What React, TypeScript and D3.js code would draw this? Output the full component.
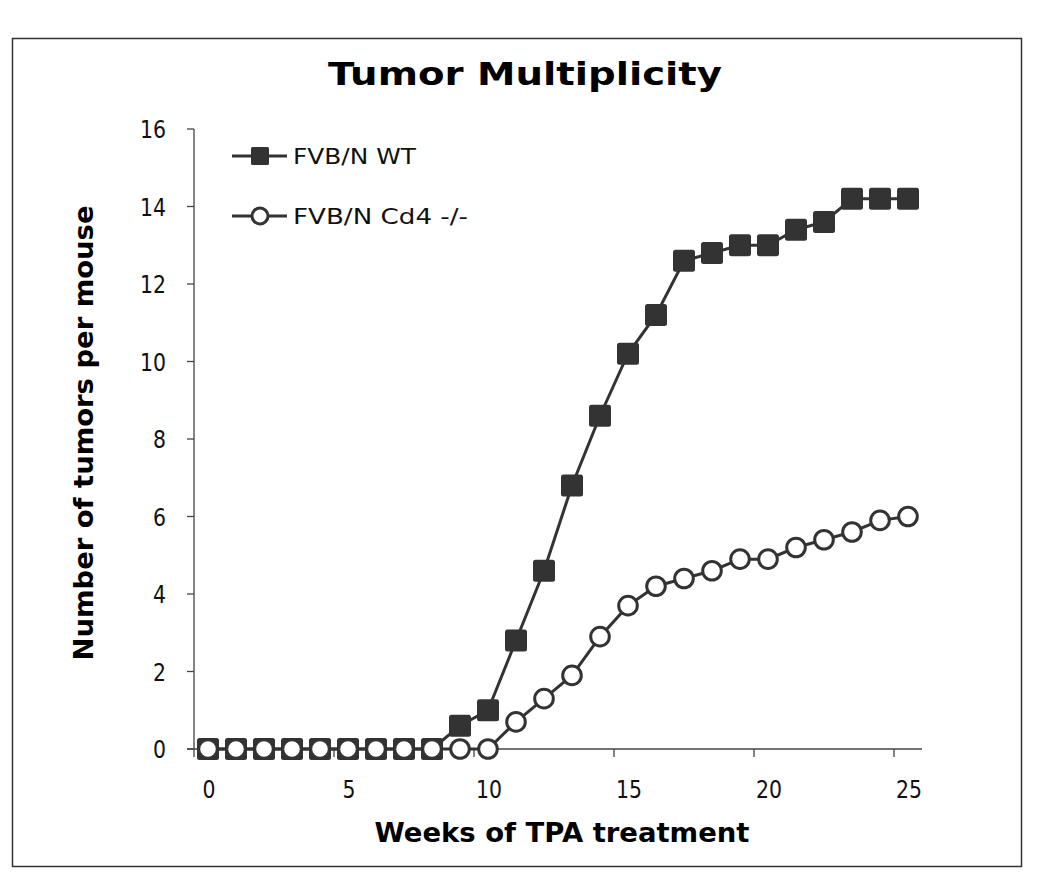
import React from "react";
import * as d3 from "d3";

const weeks = [0,1,2,3,4,5,6,7,8,9,10,11,12,13,14,15,16,17,18,19,20,21,22,23,24,25];
const wtValues = [0,0,0,0,0,0,0,0,0,0.6,1.0,2.8,4.6,6.8,8.6,10.2,11.2,12.6,12.8,13.0,13.0,13.4,13.6,14.2,14.2,14.2];
const cd4Values = [0,0,0,0,0,0,0,0,0,0,0,0.7,1.3,1.9,2.9,3.7,4.2,4.4,4.6,4.9,4.9,5.2,5.4,5.6,5.9,6.0];
const yTicks = [0,2,4,6,8,10,12,14,16];
const xTickLabels = [0,5,10,15,20,25];
const xTickMarks = [-0.5,4.5,9.5,14.5,19.5,24.5];
const seriesNames = ["FVB/N WT", "FVB/N Cd4 -/-"];
const title = "Tumor Multiplicity";
const xTitle = "Weeks of TPA treatment";
const yTitle = "Number of tumors per mouse";

export default function App() {
  const x = d3.scaleLinear().domain([-0.5, 25.5]).range([194, 922]);
  const y = d3.scaleLinear().domain([0, 16]).range([749, 129]);
  const line = d3.line<[number, number]>().x(d => x(d[0])).y(d => y(d[1]));
  const wt: [number, number][] = weeks.map((w, i) => [w, wtValues[i]]);
  const cd: [number, number][] = weeks.map((w, i) => [w, cd4Values[i]]);
  const dark = "#333333";
  const axisCol = "#444444";
  const font = "'DejaVu Sans', Verdana, sans-serif";
  const sq = 22;
  const digitW = 13;
  return (
    <svg width={1050} height={881} style={{ position: "absolute", left: 0, top: 0, background: "#fff" }} fontFamily={font}>
      <rect x={0} y={0} width={1050} height={881} fill="#fff" />
      <rect x={12.5} y={38.5} width={1009} height={828} fill="none" stroke="#333" strokeWidth={1.5} />
      <text x={525} y={85} textAnchor="middle" fontWeight="bold" fontSize={32} textLength={394} lengthAdjust="spacingAndGlyphs" fill="#000">{title}</text>
      {/* axes */}
      <line x1={194} x2={194} y1={129} y2={749} stroke={axisCol} strokeWidth={1.3} />
      <line x1={187} x2={922} y1={749} y2={749} stroke={axisCol} strokeWidth={1.3} />
      {yTicks.map(t => (
        <g key={"y" + t}>
          <line x1={187} x2={194} y1={y(t)} y2={y(t)} stroke={axisCol} strokeWidth={1.3} />
          <text x={166} y={y(t) + 9} textAnchor="end" fontSize={24} textLength={String(t).length * digitW} lengthAdjust="spacingAndGlyphs" fill="#111">{t}</text>
        </g>
      ))}
      {xTickMarks.map(t => (
        <line key={"xm" + t} x1={x(t)} x2={x(t)} y1={749} y2={757} stroke={axisCol} strokeWidth={1.3} />
      ))}
      {xTickLabels.map(t => (
        <text key={"xl" + t} x={x(t) + 1} y={798} textAnchor="middle" fontSize={24} textLength={String(t).length * digitW} lengthAdjust="spacingAndGlyphs" fill="#111">{t}</text>
      ))}
      <text x={562} y={842} textAnchor="middle" fontWeight="bold" fontSize={26} textLength={375} lengthAdjust="spacingAndGlyphs" fill="#000">{xTitle}</text>
      <text transform="translate(93,433) rotate(-90)" textAnchor="middle" fontWeight="bold" fontSize={26} textLength={455} lengthAdjust="spacingAndGlyphs" fill="#000">{yTitle}</text>
      {/* series */}
      <path d={line(cd) || ""} fill="none" stroke={dark} strokeWidth={3} />
      <path d={line(wt) || ""} fill="none" stroke={dark} strokeWidth={3} />
      {wt.map((d, i) => (
        <rect key={"w" + i} x={x(d[0]) - sq / 2} y={y(d[1]) - sq / 2} width={sq} height={sq} rx={2.5} fill={dark} />
      ))}
      {cd.map((d, i) => (
        <circle key={"c" + i} cx={x(d[0])} cy={y(d[1])} r={9.3} fill="#fff" stroke={dark} strokeWidth={3} />
      ))}
      {/* legend */}
      <line x1={232} x2={287} y1={156} y2={156} stroke={dark} strokeWidth={3} />
      <rect x={260 - 9} y={156 - 9} width={18} height={18} rx={1.5} fill={dark} />
      <text x={293} y={164} fontSize={22} textLength={123} lengthAdjust="spacingAndGlyphs" fill="#111">{seriesNames[0]}</text>
      <line x1={232} x2={287} y1={216} y2={216} stroke={dark} strokeWidth={3} />
      <circle cx={260} cy={216} r={8} fill="#fff" stroke={dark} strokeWidth={3} />
      <text x={293} y={224} fontSize={22} textLength={175} lengthAdjust="spacingAndGlyphs" fill="#111">{seriesNames[1]}</text>
    </svg>
  );
}
